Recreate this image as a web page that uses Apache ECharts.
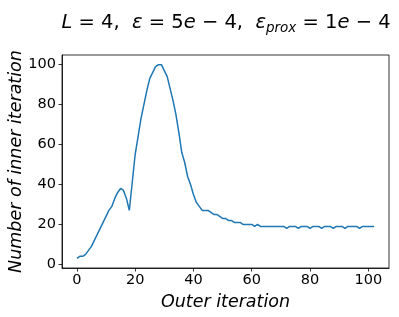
<!DOCTYPE html>
<html>
<head>
<meta charset="utf-8">
<script src="https://cdn.jsdelivr.net/npm/echarts@6/dist/echarts.min.js"></script>
<style>html,body{margin:0;padding:0;background:#fff}#c{width:399px;height:317px}</style>
</head>
<body>
<div id="c"></div>
<script>
const outerIter = [];
for (let i = 0; i <= 102; i++) outerIter.push(i);
const innerIter = [
  3, 4, 4, 5, 7, 9, 12, 15, 18, 21,
  24, 27, 29, 33, 36, 38, 37, 33, 27, 41,
  55, 64, 73, 80, 87, 93, 96, 99, 100, 100,
  97, 94, 88, 82, 75, 66, 56, 51, 44, 40,
  35, 31, 29, 27, 27, 27, 26, 25, 25, 24,
  23, 23, 22, 22, 21, 21, 21, 20, 20, 20,
  20, 19, 20, 19, 19, 19, 19, 19, 19, 19,
  19, 19, 18, 19, 19, 19, 18, 19, 19, 19,
  18, 19, 19, 19, 18, 19, 19, 19, 18, 19,
  19, 19, 18, 19, 19, 19, 19, 18, 19, 19,
  19, 19, 19
];
const xTicks = [0, 20, 40, 60, 80, 100];
const yTicks = [0, 20, 40, 60, 80, 100];

const chart = echarts.init(document.getElementById('c'), null, {renderer: 'canvas'});
const font = 'DejaVu Sans';
chart.setOption({
  animation: false,
  backgroundColor: '#fff',
  title: {
    text: '{i|L} = 4,  {i|ε} = 5{i|e} − 4,  {i|ε}{sub|prox} = 1{i|e} − 4',
    left: 221, top: 6, textAlign: 'center',
    textStyle: {
      fontFamily: font, fontSize: 19.5, color: '#000', fontWeight: 'normal',
      rich: {
        i: {fontFamily: font, fontStyle: 'italic', fontSize: 19.5, color: '#000'},
        sub: {fontFamily: font, fontStyle: 'italic', fontSize: 13.5, color: '#000', padding: [10, 0, 0, 0]}
      }
    }
  },
  grid: {left: 62, right: 10, top: 55, bottom: 49, outerBoundsMode: 'none', containLabel: false,
         show: true, borderColor: '#000', borderWidth: 0.8, backgroundColor: 'transparent'},
  xAxis: {
    type: 'value', min: -5.1, max: 107.1,
    name: 'Outer iteration', nameLocation: 'middle', nameGap: 25, nameMoveOverlap: false,
    nameTextStyle: {fontFamily: font, fontStyle: 'italic', fontSize: 17.5, color: '#000'},
    axisLine: {show: true, onZero: false, lineStyle: {color: '#000', width: 0.8}},
    axisTick: {show: true, inside: false, length: 3.5, lineStyle: {color: '#000', width: 0.8}, customValues: xTicks},
    axisLabel: {fontFamily: font, fontSize: 14.5, color: '#000', margin: 5, customValues: xTicks},
    splitLine: {show: false}
  },
  yAxis: {
    type: 'value', min: -1.85, max: 104.85,
    name: 'Number of inner iteration', nameLocation: 'middle', nameGap: 37, nameMoveOverlap: false,
    nameTextStyle: {fontFamily: font, fontStyle: 'italic', fontSize: 17.5, color: '#000'},
    axisLine: {show: true, onZero: false, lineStyle: {color: '#000', width: 0.8}},
    axisTick: {show: true, inside: false, length: 3.5, lineStyle: {color: '#000', width: 0.8}, customValues: yTicks},
    axisLabel: {fontFamily: font, fontSize: 14.5, color: '#000', margin: 6, customValues: yTicks},
    splitLine: {show: false}
  },
  series: [{
    type: 'line',
    data: outerIter.map((x, k) => [x, innerIter[k]]),
    showSymbol: false,
    lineStyle: {color: '#1f77b4', width: 1.5},
    itemStyle: {color: '#1f77b4'}
  }]
});
</script>
</body>
</html>
